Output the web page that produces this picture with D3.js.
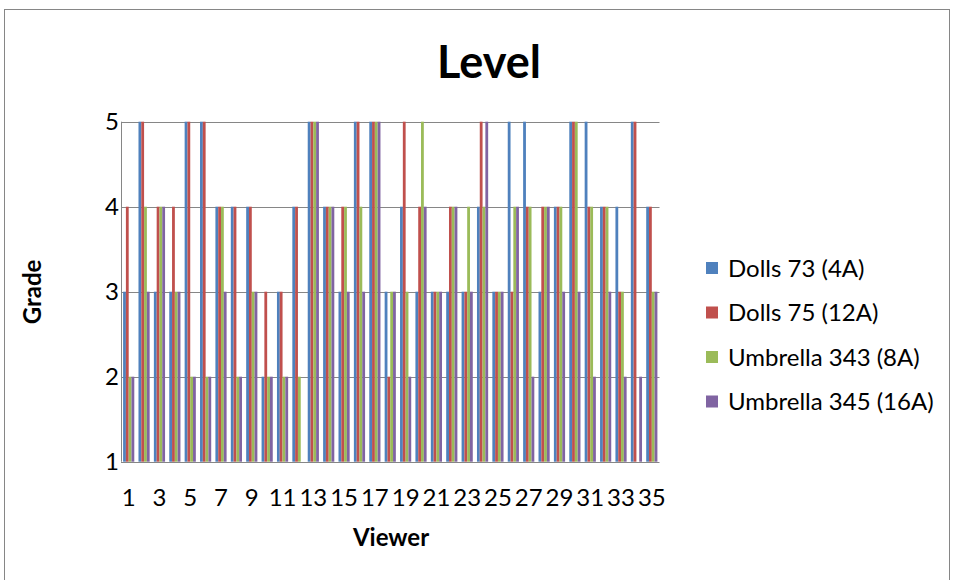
<!DOCTYPE html>
<html>
<head>
<meta charset="utf-8">
<script src="https://cdn.jsdelivr.net/npm/d3@7"></script>
<style>
  html, body { margin: 0; padding: 0; background: #fff; }
  svg { display: block; font-family: Lato, "Open Sans", sans-serif; }
</style>
</head>
<body>
<svg id="chart" width="953" height="580"></svg>
<script>
// Viewer numbers 1..35
const viewers = ["1","2","3","4","5","6","7","8","9","10","11","12","13","14","15","16","17","18","19","20",
                 "21","22","23","24","25","26","27","28","29","30","31","32","33","34","35"];
const seriesNames = ["Dolls 73 (4A)", "Dolls 75 (12A)", "Umbrella 343 (8A)", "Umbrella 345 (16A)"];
const seriesColors = ["#4F81BD", "#C0504D", "#9BBB59", "#8064A2"];

// Grades given by each viewer
const dolls73     = [3,5,3,3,5,5,4,4,4,2,3,4,5,4,3,5,5,3,4,3,3,3,3,4,3,5,5,3,4,5,5,4,4,5,4];
const dolls75     = [4,5,4,4,5,5,4,4,4,3,3,4,5,4,4,5,5,2,5,4,3,4,3,5,3,3,4,4,4,5,4,4,3,5,4];
const umbrella343 = [2,4,4,3,2,2,4,2,3,2,2,2,5,4,4,4,5,3,3,5,3,4,4,4,3,4,4,4,4,5,4,4,3,1,3];
const umbrella345 = [2,3,4,3,2,2,3,2,3,2,2,1,5,4,3,3,5,3,2,4,3,4,3,5,3,4,2,4,3,3,2,3,2,2,3];
const seriesValues = [dolls73, dolls75, umbrella343, umbrella345];

const yTicks = [1, 2, 3, 4, 5];
const xTickLabels = viewers.filter((d, i) => i % 2 === 0);

const svg = d3.select("#chart");
const FONT = 24;

// outer chart frame
svg.append("rect")
  .attr("x", 4.5).attr("y", 9.5)
  .attr("width", 945).attr("height", 600)
  .attr("fill", "#fff").attr("stroke", "#868686").attr("stroke-width", 1);

const plot = { left: 121, right: 659.5, top: 121.7, bottom: 461.7 };

const x0 = d3.scaleBand().domain(viewers).range([plot.left, plot.right]).padding(0);
const x1 = d3.scaleBand().domain(d3.range(seriesNames.length))
  .range([0, x0.bandwidth()]).paddingInner(0).paddingOuter(0.75);
const y = d3.scaleLinear().domain([1, 5]).range([plot.bottom, plot.top]);

// horizontal gridlines
svg.append("g")
  .selectAll("line").data(yTicks).join("line")
  .attr("x1", plot.left).attr("x2", plot.right)
  .attr("y1", d => Math.round(y(d)) + 0.5).attr("y2", d => Math.round(y(d)) + 0.5)
  .attr("stroke", "#868686").attr("stroke-width", 1);

// bars
const rows = viewers.map((v, i) => ({ v, vals: seriesValues.map(s => s[i]) }));
svg.append("g")
  .selectAll("g").data(rows).join("g")
  .attr("transform", d => `translate(${x0(d.v)},0)`)
  .selectAll("rect").data(d => d.vals.map((val, k) => ({ k, val })))
  .join("rect")
  .attr("x", d => x1(d.k))
  .attr("width", x1.bandwidth())
  .attr("y", d => y(d.val))
  .attr("height", d => y(1) - y(d.val))
  .attr("fill", d => seriesColors[d.k]);

// value axis line
svg.append("line")
  .attr("x1", plot.left + 0.5).attr("x2", plot.left + 0.5)
  .attr("y1", plot.top).attr("y2", plot.bottom)
  .attr("stroke", "#868686");

// y axis labels
const yAxis = d3.axisLeft(y).tickValues(yTicks).tickSize(0).tickPadding(2).tickFormat(d3.format("d"));
const gy = svg.append("g").attr("transform", `translate(${plot.left},0)`).call(yAxis);
gy.select(".domain").remove();
gy.selectAll("text").attr("font-size", FONT).attr("fill", "#000").attr("font-family", "Lato, sans-serif");

// x axis labels
const xAxis = d3.axisBottom(x0).tickValues(xTickLabels).tickSize(0).tickPadding(27);
const gx = svg.append("g").attr("transform", `translate(0,${plot.bottom})`).call(xAxis);
gx.select(".domain").remove();
gx.selectAll("text").attr("font-size", FONT).attr("fill", "#000").attr("font-family", "Lato, sans-serif");

// titles
svg.append("text").attr("x", 489).attr("y", 78).attr("text-anchor", "middle")
  .attr("font-size", 45).attr("font-weight", "bold").text("Level");
svg.append("text").attr("x", 391).attr("y", 546).attr("text-anchor", "middle")
  .attr("font-size", FONT).attr("font-weight", "bold").text("Viewer");
svg.append("text").attr("transform", "translate(41,292) rotate(-90)").attr("text-anchor", "middle")
  .attr("font-size", FONT).attr("font-weight", "bold").text("Grade");

// legend
const legend = svg.append("g").selectAll("g").data(seriesNames).join("g")
  .attr("transform", (d, i) => `translate(706,${268 + i * 44.5})`);
legend.append("rect").attr("x", 0).attr("y", -6).attr("width", 12).attr("height", 12)
  .attr("fill", (d, i) => seriesColors[i]);
legend.append("text").attr("x", 22).attr("y", 8.5).attr("font-size", FONT).text(d => d);
</script>
</body>
</html>
